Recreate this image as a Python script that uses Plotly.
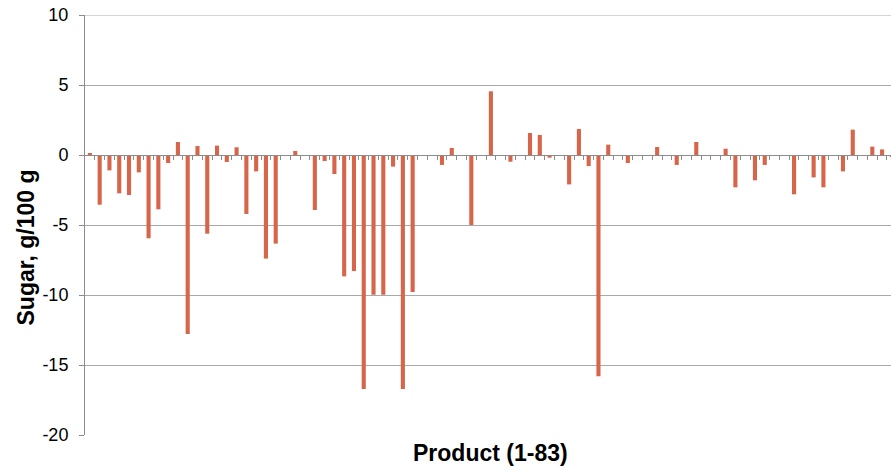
import plotly.graph_objects as go

products = list(range(1, 84))
sugar_diff = [
    0.1, -3.55, -1.1, -2.74, -2.86, -1.24, -5.95, -3.88, -0.57, 0.93,
    -12.79, 0.64, -5.62, 0.67, -0.5, 0.55, -4.21, -1.17, -7.40, -6.33,
    0, 0.29, 0, -3.93, -0.43, -1.36, -8.67, -8.29, -16.71, -9.98,
    -9.98, -0.83, -16.71, -9.79, 0, 0, -0.71, 0.5, 0, -5.0,
    0, 4.55, 0, -0.48, 0, 1.57, 1.43, -0.19, 0, -2.1,
    1.86, -0.79, -15.81, 0.74, 0, -0.57, 0, 0, 0.57, 0,
    -0.71, 0, 0.93, 0, 0, 0.45, -2.31, 0, -1.81, -0.71,
    0, 0, -2.81, 0, -1.6, -2.31, 0, -1.17, 1.81, 0,
    0.6, 0.40, -0.1,
]
y_ticks = [10, 5, 0, -5, -10, -15, -20]
x_title = "Product (1-83)"
y_title = "Sugar, g/100 g"

FONT = "Liberation Sans, Arial, sans-serif"
GRID = "#a9a9a9"
AXIS = "#8c8c8c"

fig = go.Figure(
    go.Bar(
        x=products,
        y=sugar_diff,
        marker=dict(color="#D6654A", line=dict(width=0)),
        hoverinfo="x+y",
    )
)

fig.update_layout(
    width=891,
    height=470,
    margin=dict(l=85, r=0, t=15, b=35, autoexpand=False),
    paper_bgcolor="white",
    plot_bgcolor="white",
    bargap=0.58,
    showlegend=False,
    font=dict(family=FONT, color="#000000"),
    xaxis=dict(
        range=[0.5, 82.91],
        anchor="free",
        position=20 / 30,
        showline=True,
        linecolor=AXIS,
        linewidth=1,
        ticks="outside",
        ticklen=4,
        tickcolor=AXIS,
        tickvals=[p + 0.5 for p in products],
        showticklabels=False,
        showgrid=False,
        zeroline=False,
    ),
    yaxis=dict(
        range=[-20, 10],
        tickvals=y_ticks,
        ticktext=[str(v) for v in y_ticks],
        showgrid=True,
        gridcolor=GRID,
        gridwidth=1,
        showline=True,
        linecolor=AXIS,
        linewidth=1,
        ticks="outside",
        ticklen=5,
        tickcolor=AXIS,
        zeroline=False,
        tickfont=dict(family=FONT, size=18, color="#000000"),
        ticklabelstandoff=7,
        automargin=False,
    ),
    shapes=[
        # top gridline at y=10 (plotly skips the grid line on the plot edge)
        dict(type="line", xref="paper", x0=0, x1=1, yref="y", y0=10, y1=10,
             line=dict(color=GRID, width=1), layer="below"),
    ],
    annotations=[
        dict(
            text="<b>" + x_title + "</b>", xref="paper", yref="paper",
            x=(490 - 85) / 806, y=-(453 - 435) / 420,
            xanchor="center", yanchor="middle", showarrow=False,
            font=dict(family=FONT, size=23, color="#000000"),
        ),
        dict(
            text="<b>" + y_title + "</b>", xref="paper", yref="paper",
            x=(25 - 85) / 806, y=(435 - 247.5) / 420,
            xanchor="center", yanchor="middle", showarrow=False, textangle=-90,
            font=dict(family=FONT, size=23, color="#000000"),
        ),
    ],
)

fig.write_html(
    "out.html",
    config={"displayModeBar": False},
    post_script="document.body.style.margin='0';document.body.style.overflow='hidden';",
)
